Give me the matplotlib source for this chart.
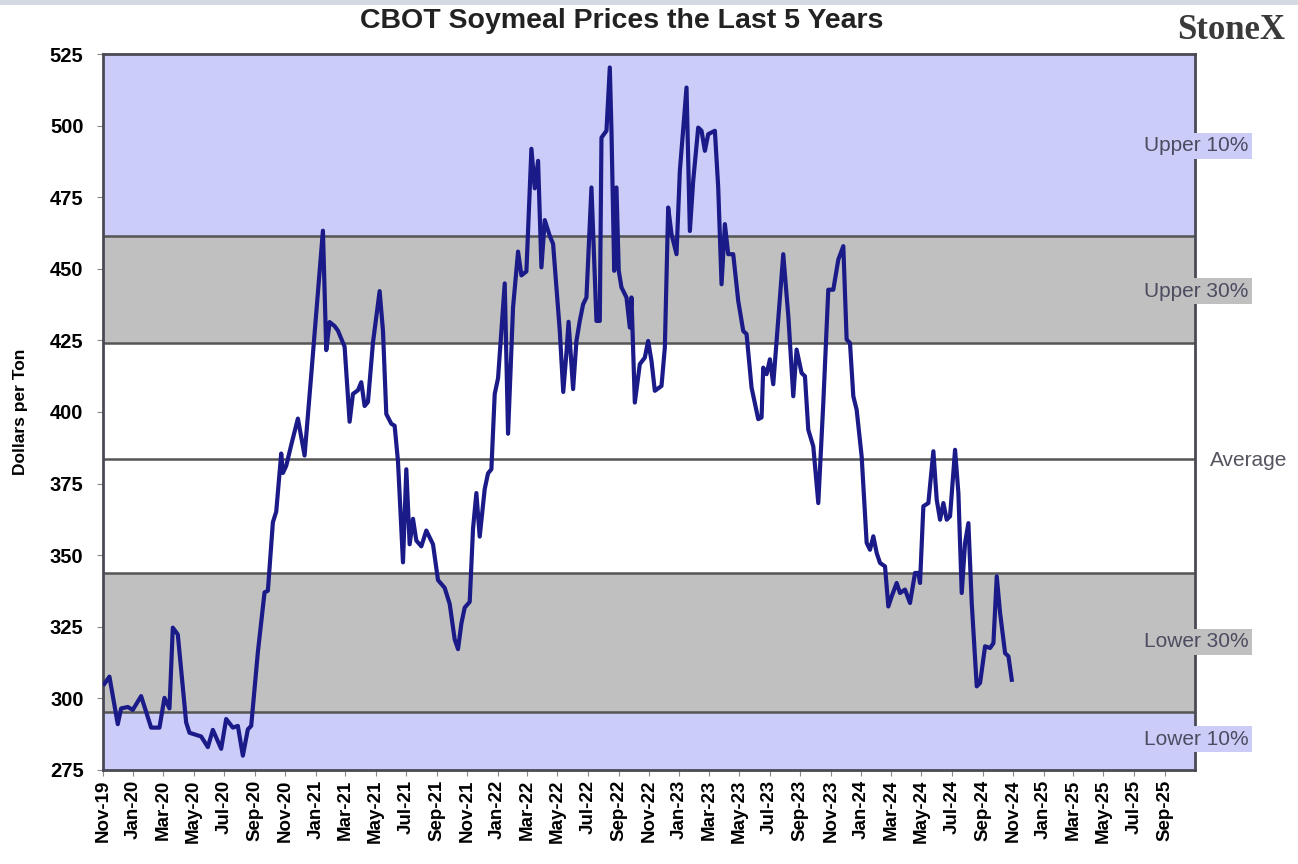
import pandas as pd
import matplotlib
matplotlib.use("Agg")
import matplotlib.pyplot as plt
import matplotlib.dates as mdates
from matplotlib.patches import Rectangle

plt.rcParams["font.family"] = ["Liberation Sans", "DejaVu Sans"]

# weekly-ish soymeal prices, x = months since 1 Nov 2019
months = [0.09, 0.42, 0.97, 1.19, 1.63, 1.96, 2.51, 3.17, 3.72, 4.05, 4.38, 4.6, 4.93,
          5.48, 5.7, 6.47, 6.91, 7.24, 7.79, 8.12, 8.56, 8.89, 9.22, 9.55, 9.77, 10.21,
          10.65, 10.87, 11.2, 11.42, 11.75, 11.86, 12.08, 12.41, 12.85, 13.29, 13.73,
          14.5, 14.72, 14.94, 15.27, 15.49, 15.93, 16.26, 16.48, 16.81, 17.03, 17.25,
          17.47, 17.8, 18.24, 18.46, 18.68, 19.01, 19.23, 19.45, 19.78, 20.0, 20.22,
          20.44, 20.66, 20.99, 21.32, 21.76, 22.09, 22.53, 22.86, 23.19, 23.41, 23.63,
          23.85, 24.18, 24.4, 24.62, 24.84, 25.17, 25.39, 25.61, 25.83, 26.05, 26.49,
          26.71, 27.04, 27.37, 27.59, 27.92, 28.25, 28.47, 28.69, 28.91, 29.13, 29.46,
          29.68, 30.12, 30.35, 30.55, 30.7, 31.0, 31.22, 31.44, 31.66, 31.88, 32.21,
          32.54, 32.76, 32.87, 33.2, 33.42, 33.53, 33.71, 33.86, 34.01, 34.19, 34.52,
          34.74, 34.85, 35.07, 35.4, 35.73, 35.95, 36.17, 36.39, 36.83, 37.05, 37.27,
          37.49, 37.82, 38.04, 38.48, 38.7, 38.92, 39.25, 39.47, 39.69, 39.91, 40.35,
          40.57, 40.79, 41.01, 41.23, 41.56, 41.89, 42.22, 42.44, 42.77, 43.21, 43.43,
          43.54, 43.76, 43.98, 44.2, 44.86, 45.2, 45.52, 45.74, 46.07, 46.29, 46.51,
          46.84, 47.17, 47.5, 47.83, 48.16, 48.49, 48.82, 49.04, 49.26, 49.48, 49.7,
          50.03, 50.36, 50.58, 50.8, 51.02, 51.24, 51.57, 51.79, 52.01, 52.34, 52.56,
          52.89, 53.22, 53.55, 53.77, 53.88, 54.1, 54.43, 54.76, 54.98, 55.2, 55.42,
          55.64, 55.86, 56.19, 56.41, 56.63, 56.85, 57.07, 57.29, 57.62, 57.84, 58.17,
          58.5, 58.72, 58.94, 59.16, 59.49, 59.71, 59.93]
prices = [305.1, 307.6, 291, 296.5, 297, 296, 300.8, 289.8, 289.8, 300.2, 296.5, 324.7, 322.3,
          291.6, 288, 286.7, 283, 289, 282.4, 292.8, 289.8, 290.4, 280, 289.2, 290.4, 316.2,
          337, 337.6, 361.5, 365.2, 385.5, 378.7, 381.2, 388.5, 397.7, 384.8, 413,
          463.3, 421.6, 431.4, 430, 428.4, 422.8, 396.6, 406.3, 407.6, 410.4, 402.1,
          403.5, 424.2, 442.2, 428.4, 399.3, 395.9, 395.2, 382.8, 347.5, 380, 353.8,
          362.7, 355.1, 353.1, 358.6, 353.8, 341.3, 338.6, 333, 320.6, 317.2, 326.1,
          331.7, 333.7, 359.3, 371.7, 356.5, 373.1, 378.6, 380, 406.3, 411.8, 444.9,
          392.4, 436.6, 456, 447.7, 449.1, 491.9, 478.1, 487.7, 450.5, 467, 461.5,
          458.7, 428.4, 407, 420, 431.5, 408, 424.8, 431.8, 437.6, 440, 478.4,
          431.8, 431.8, 495.8, 498.2, 520.3, 498.2, 449.3, 478.4, 449.3, 443.5, 440,
          429.5, 440, 403.3, 416.7, 419, 424.8, 417.8, 407.4, 409.1, 422.5, 471.4,
          462.1, 455.1, 484.2, 513.3, 463.2, 480.7, 499.3, 498.2, 491.2, 497, 498.2,
          478.4, 444.6, 465.6, 455.1, 455.1, 438.8, 428.3, 427.2, 408.5, 397.5, 398.1,
          415.5, 413.2, 418.4, 409.7, 455.1, 433, 405.5, 421.8, 413.6, 412.5, 393.8,
          388, 368.2, 403.1, 442.7, 442.7, 453.2, 457.9, 425.3, 424.1, 405.5, 400.8,
          384.5, 354.3, 351.9, 356.6, 350.8, 347.3, 346.1, 332.1, 335.6, 340.3, 336.8,
          338, 333.3, 343.8, 343.8, 340.3, 367.1, 368.2, 386.3, 369.4, 362.4, 368.2,
          362.4, 363.6, 386.8, 371.7, 336.8, 354.3, 361.2, 333.3, 304.2, 305.4, 318.2,
          317.6, 319.3, 342.6, 329.8, 315.8, 314.7, 306.5]

# percentile bands (lower edge, upper edge)
band_edges = [275, 295.3, 343.8, 424.1, 461.5, 525]
band_colors = ["#ccccf8", "#c0c0c0", "#ffffff", "#c0c0c0", "#ccccf8"]
average = 383.5

band_labels = ["Upper 10%", "Upper 30%", "Average", "Lower 30%", "Lower 10%"]
label_y = [492.9, 442.2, 383.2, 319.7, 285.8]
label_bg = ["#ccccf8", "#c0c0c0", "none", "#c0c0c0", "#ccccf8"]

start = pd.Timestamp("2019-11-01")
dates = [start + pd.Timedelta(days=m * 30.44) for m in months]
tick_dates = pd.date_range("2019-11-01", "2025-09-01", freq="2MS")

fig = plt.figure(figsize=(12.98, 8.64), dpi=100)
ax = fig.add_axes([0.0794, 0.1088, 0.8412, 0.8287])

# screenshot strip along the top
fig.patches.append(Rectangle((0, 1 - 5 / 864), 1, 5 / 864, transform=fig.transFigure,
                             facecolor="#d3dae2", edgecolor="none"))

for i in range(len(band_colors)):
    ax.axhspan(band_edges[i], band_edges[i + 1], facecolor=band_colors[i], edgecolor="none", zorder=0)
for y in band_edges[1:-1] + [average]:
    ax.axhline(y, color="#555555", lw=1.8, zorder=1)

ax.plot(dates, prices, color="#1a1a88", lw=3.0, zorder=3, solid_joinstyle="round")

ax.set_ylim(275, 525)
ax.set_xlim(pd.Timestamp("2019-11-01"), pd.Timestamp("2025-11-01"))
ax.set_yticks(range(275, 526, 25))
ax.set_xticks(tick_dates)
ax.xaxis.set_major_formatter(mdates.DateFormatter("%b-%y"))

for lab in ax.get_xticklabels():
    lab.set_rotation(90)
    lab.set_fontweight("bold")
for lab in ax.get_yticklabels():
    lab.set_fontweight("bold")
ax.tick_params(axis="x", labelsize=13.5, length=4, color="#888888", pad=3)
ax.tick_params(axis="y", labelsize=14.5, length=4, color="#888888", pad=10)

for s in ax.spines.values():
    s.set_color("#4a4a55")
    s.set_linewidth(2)

ax.set_ylabel("Dollars per Ton", fontsize=12.5, fontweight="bold", labelpad=16)

ytrans = ax.get_yaxis_transform()
for txt, y, bg in zip(band_labels, label_y, label_bg):
    if bg == "none":
        ax.text(1.0137, y, txt, transform=ytrans, ha="left", va="center",
                fontsize=15, color="#555560", clip_on=False)
    else:
        ax.text(1.0009, y, txt, transform=ytrans, ha="center", va="center",
                fontsize=15, color="#4c4c60", clip_on=False,
                bbox=dict(facecolor=bg, edgecolor="none", pad=2.5))

fig.text(0.479, 0.976, "CBOT Soymeal Prices the Last 5 Years", ha="center", va="center",
         fontsize=20.5, fontweight="bold", color="#222222")
fig.text(0.99, 0.965, "StoneX", ha="right", va="center", fontsize=25,
         fontweight="bold", family="Liberation Serif", color="#3a3a3a")

fig.savefig("out.png", dpi=100)
